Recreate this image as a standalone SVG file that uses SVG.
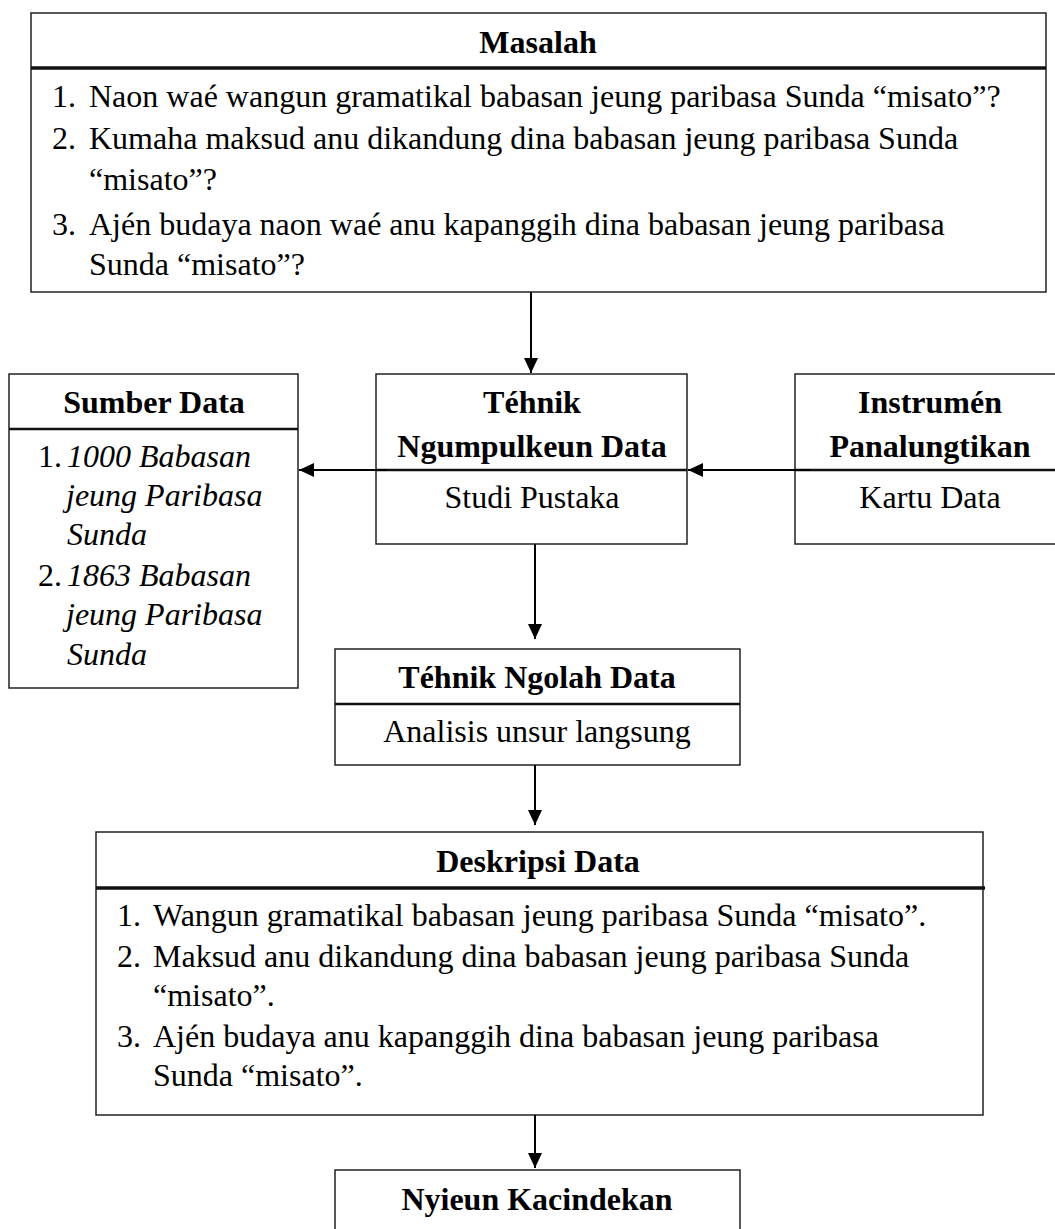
<svg xmlns="http://www.w3.org/2000/svg" width="1055" height="1229" viewBox="0 0 1055 1229">
<style>
text{font-family:"Liberation Serif","Times New Roman",serif;font-size:32px;fill:#000}
.b{font-weight:bold}
.c{text-anchor:middle}
.i{font-style:italic}
.box{fill:#fff;stroke:#222;stroke-width:1.5}
.sep{stroke:#111;stroke-width:2.5}
.sep2{stroke:#111;stroke-width:3.5}
.con{stroke:#000;stroke-width:2;fill:none}
</style>
<defs>
<marker id="ah" markerWidth="16" markerHeight="16" refX="15" refY="7" orient="auto" markerUnits="userSpaceOnUse">
<path d="M0,0 L15,7 L0,14 Z" fill="#000"/>
</marker>
</defs>
<rect width="1055" height="1229" fill="#fff"/>
<g id="masalah">
<rect class="box" x="31" y="13" width="1015" height="279"/>
<line class="sep2" x1="31" y1="68" x2="1046" y2="68"/>
<text class="b c" x="538" y="53">Masalah</text>
<text x="52" y="107">1.</text><text x="89" y="107">Naon waé wangun gramatikal babasan jeung paribasa Sunda “misato”?</text>
<text x="52" y="149">2.</text><text x="89" y="149">Kumaha maksud anu dikandung dina babasan jeung paribasa Sunda</text>
<text x="89" y="190">“misato”?</text>
<text x="52" y="235">3.</text><text x="89" y="235">Ajén budaya naon waé anu kapanggih dina babasan jeung paribasa</text>
<text x="89" y="275">Sunda “misato”?</text>
</g>
<g id="sumber">
<rect class="box" x="9" y="374" width="289" height="314"/>
<line class="sep" x1="9" y1="429" x2="298" y2="429"/>
<text class="b c" x="154" y="413">Sumber Data</text>
<text x="38" y="467">1.</text><text class="i" x="67" y="467">1000 Babasan</text>
<text class="i" x="66" y="506">jeung Paribasa</text>
<text class="i" x="67" y="545">Sunda</text>
<text x="38" y="586">2.</text><text class="i" x="67" y="586">1863 Babasan</text>
<text class="i" x="66" y="625">jeung Paribasa</text>
<text class="i" x="67" y="665">Sunda</text>
</g>
<g id="ngumpulkeun">
<rect class="box" x="376" y="374" width="311" height="170"/>
<line class="sep" x1="376" y1="470" x2="687" y2="470"/>
<text class="b c" x="532" y="413">Téhnik</text>
<text class="b c" x="532" y="457">Ngumpulkeun Data</text>
<text class="c" x="532" y="508">Studi Pustaka</text>
</g>
<g id="instrumen">
<rect class="box" x="795" y="374" width="275" height="170"/>
<line class="sep" x1="795" y1="470" x2="1055" y2="470"/>
<text class="b c" x="930" y="413">Instrumén</text>
<text class="b c" x="930" y="457">Panalungtikan</text>
<text class="c" x="930" y="508">Kartu Data</text>
</g>
<g id="ngolah">
<rect class="box" x="335" y="649" width="405" height="116"/>
<line class="sep" x1="335" y1="704" x2="740" y2="704"/>
<text class="b c" x="537" y="688">Téhnik Ngolah Data</text>
<text class="c" x="537" y="742">Analisis unsur langsung</text>
</g>
<g id="deskripsi">
<rect class="box" x="96" y="832" width="887" height="283"/>
<line class="sep2" x1="96" y1="888" x2="985" y2="888"/>
<text class="b c" x="538" y="872">Deskripsi Data</text>
<text x="117" y="926">1.</text><text x="153" y="926">Wangun gramatikal babasan jeung paribasa Sunda “misato”.</text>
<text x="117" y="967">2.</text><text x="153" y="967">Maksud anu dikandung dina babasan jeung paribasa Sunda</text>
<text x="153" y="1006">“misato”.</text>
<text x="117" y="1047">3.</text><text x="153" y="1047">Ajén budaya anu kapanggih dina babasan jeung paribasa</text>
<text x="153" y="1086">Sunda “misato”.</text>
</g>
<g id="kacindekan">
<rect class="box" x="335" y="1170" width="405" height="80"/>
<text class="b c" x="537" y="1210">Nyieun Kacindekan</text>
</g>
<g id="connectors">
<line class="con" x1="531" y1="292" x2="531" y2="373" marker-end="url(#ah)"/>
<line class="con" x1="387" y1="470" x2="299" y2="470" marker-end="url(#ah)"/>
<line class="con" x1="810" y1="470" x2="688" y2="470" marker-end="url(#ah)"/>
<line class="con" x1="535" y1="544" x2="535" y2="639" marker-end="url(#ah)"/>
<line class="con" x1="535" y1="765" x2="535" y2="825" marker-end="url(#ah)"/>
<line class="con" x1="535" y1="1115" x2="535" y2="1168" marker-end="url(#ah)"/>
</g>
</svg>
